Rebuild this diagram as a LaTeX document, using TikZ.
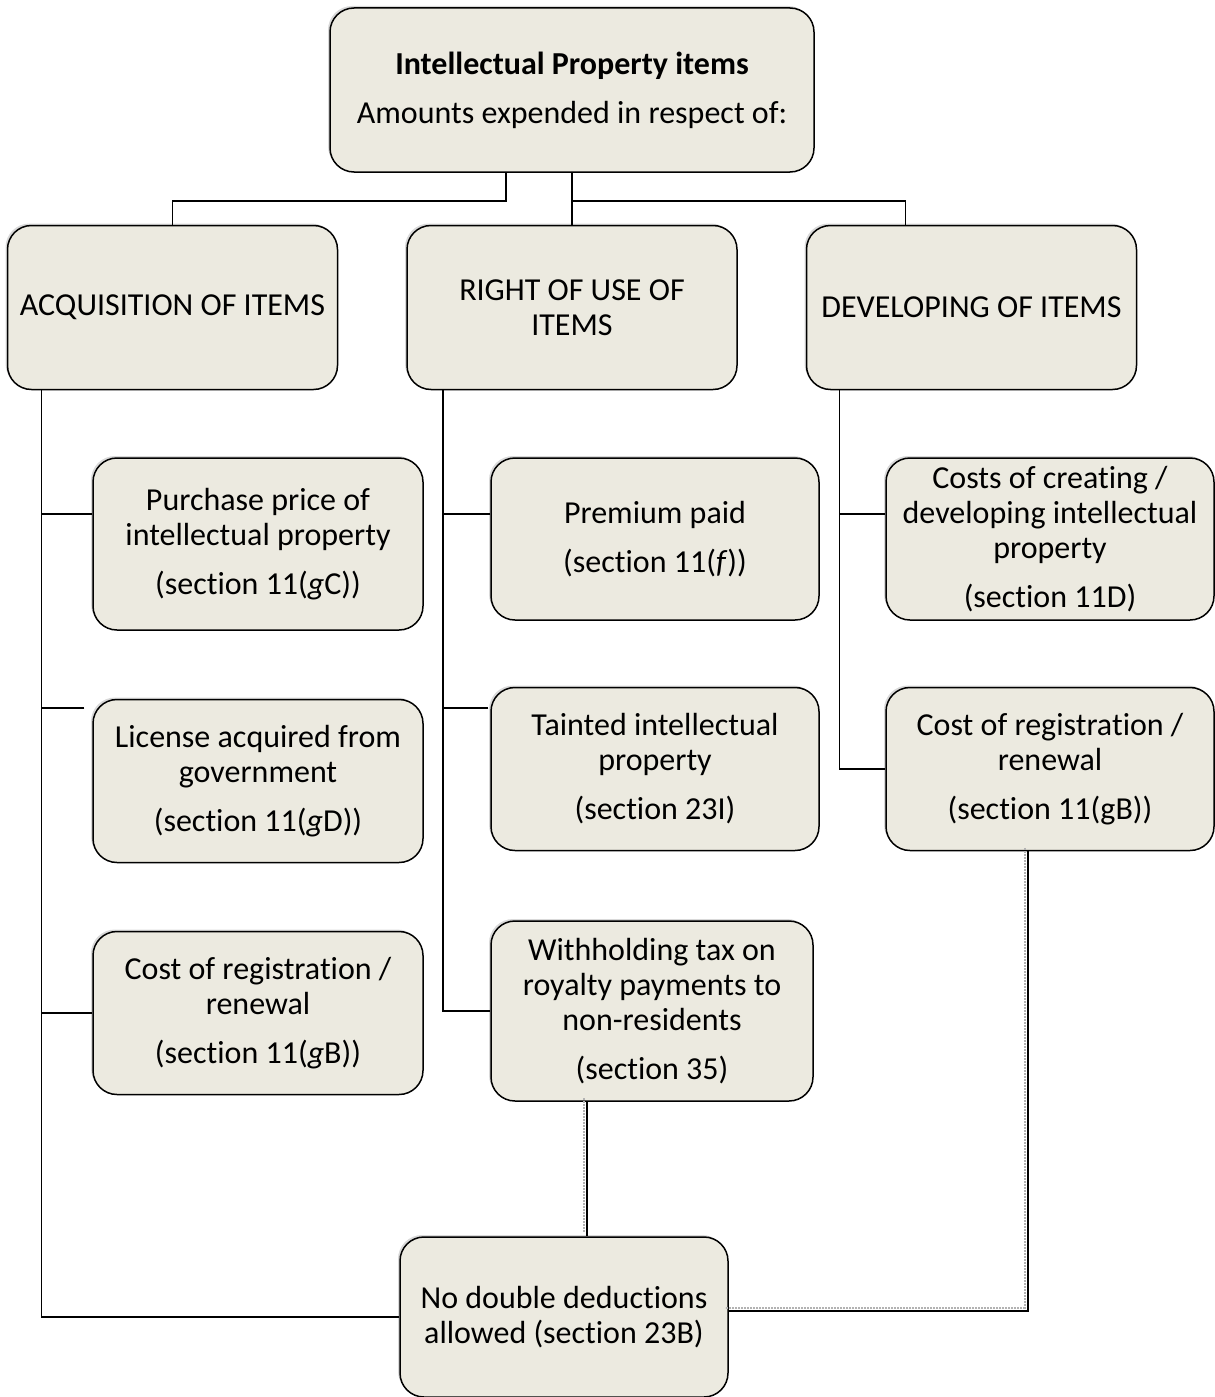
\documentclass[tikz,border=0pt]{standalone}
\usepackage{fontspec}
\setmainfont{Carlito}[Ligatures=NoCommon]
\usepackage{tikz}
\usetikzlibrary{positioning,shadows}
\definecolor{boxfill}{HTML}{ECEAE0}

\begin{document}
\begin{tikzpicture}[
  x=1pt, y=1pt,
  node distance=52pt and 68pt,
  box/.style={draw, line width=1.5pt, rounded corners=24pt, fill=boxfill, align=center,
              font=\fontsize{32}{35}\selectfont, inner sep=3pt,
              drop shadow={shadow xshift=-2pt, shadow yshift=2pt, opacity=.3}},
  head/.style={box, minimum width=484pt, minimum height=164pt},
  cat/.style={box, minimum width=330pt, minimum height=164pt},
  item/.style={box, minimum width=330pt, minimum height=163pt},
  link/.style={line width=1.6pt},
  dbl/.style={link, preaction={draw=gray!60, line width=2pt, densely dotted,
              transform canvas={xshift=-3.5pt, yshift=3.5pt}}}]
  \useasboundingbox (0,0) rectangle (1215,-1397);
  % top and categories
  \node[head] (ip) at (572,-90) {\textbf{Intellectual Property items}\\[14pt] Amounts expended in respect of:};
  \node[cat, below=of ip] (use) {RIGHT OF USE OF\\ ITEMS};
  \node[cat, left=of use] (acq) {ACQUISITION OF ITEMS};
  \node[cat, right=of use] (dev) {DEVELOPING OF ITEMS};
  % items
  \node[item, minimum height=172pt] (purchase) at (258,-544) {Purchase price of\\ intellectual property\\[14pt] (section 11(\textit{g}C))};
  \node[item] (license) at (258,-781) {License acquired from\\ government\\[14pt] (section 11(\textit{g}D))};
  \node[item] (regL) at (258,-1013) {Cost of registration /\\ renewal\\[14pt] (section 11(\textit{g}B))};
  \node[item, minimum width=328pt, minimum height=162pt] (premium) at (655,-539) {Premium paid\\[14pt] (section 11(\textit{f}))};
  \node[item, minimum width=328pt] (tainted) at (655,-769) {Tainted intellectual\\ property\\[14pt] (section 23I)};
  \node[item, minimum width=322pt, minimum height=180pt] (withhold) at (652,-1011) {Withholding tax on\\ royalty payments to\\ non-residents\\[14pt] (section 35)};
  \node[item, minimum width=328pt, minimum height=162pt] (creating) at (1050,-539) {Costs of creating /\\ developing intellectual\\ property\\[14pt] (section 11D)};
  \node[item, minimum width=328pt] (regR) at (1050,-769) {Cost of registration /\\ renewal\\[14pt] (section 11(gB))};
  \node[item, minimum width=328pt, minimum height=160pt] (nodouble) at (564,-1317) {No double deductions\\ allowed (section 23B)};
  % top connectors
  \draw[link] ([xshift=-66pt]ip.south) -- ++(0,-28) -| (acq.north);
  \draw[link] (ip) -- (use);
  \draw[link] (ip.south) ++(0,-28) -| ([xshift=-66pt]dev.north);
  % trunks
  \coordinate (trunkL) at ([xshift=-131pt]acq.south);
  \coordinate (trunkM) at ([xshift=-129pt]use.south);
  \coordinate (trunkR) at ([xshift=-132pt]dev.south);
  \draw[link] (trunkL) |- (nodouble.west);
  \draw[link] ([yshift=30pt]purchase.west) -| (trunkL);
  \draw[link] ([xshift=-8pt, yshift=73pt]license.west) -| (trunkL);
  \draw[link] (regL.west) -| (trunkL);
  \draw[link] (trunkM) |- (withhold.west);
  \draw[link] ([yshift=25pt]premium.west) -| (trunkM);
  \draw[link] ([xshift=-2pt, yshift=61pt]tainted.west) -| (trunkM);
  \draw[link] (trunkR) |- (regR.west);
  \draw[link] ([yshift=25pt]creating.west) -| (trunkR);
  % links to the bottom box
  \draw[dbl] ([xshift=-65pt]withhold.south) -- ([xshift=-65pt]withhold.south |- nodouble.north);
  \draw[dbl] ([xshift=-22pt]regR.south) |- ([yshift=6pt]nodouble.east);
\end{tikzpicture}
\end{document}
